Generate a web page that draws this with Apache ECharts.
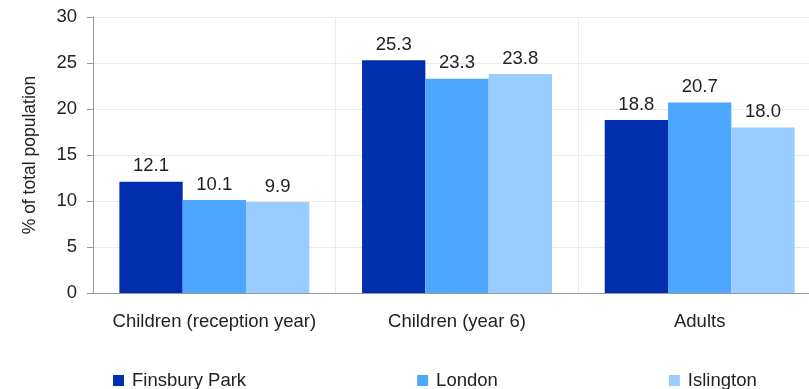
<!DOCTYPE html>
<html>
<head>
<meta charset="utf-8">
<script src="https://cdn.jsdelivr.net/npm/echarts@6/dist/echarts.min.js"></script>
<style>html,body{margin:0;padding:0;background:#fff}#c{width:809px;height:389px}</style>
</head>
<body>
<div id="c"></div>
<script>
const categories = ['Children (reception year)', 'Children (year 6)', 'Adults'];
const seriesNames = ['Finsbury Park', 'London', 'Islington'];
const finsburyPark = [12.1, 25.3, 18.8];
const london = [10.1, 23.3, 20.7];
const islington = [9.9, 23.8, 18.0];
const colors = ['#002EAE', '#4DA6FF', '#99CCFF'];
const yTicks = { min: 0, max: 30, interval: 5 };

const font = 'Liberation Sans, Arial, sans-serif';
const fs = 18.5;
const chart = echarts.init(document.getElementById('c'), null, { renderer: 'canvas' });
const data = [finsburyPark, london, islington];
chart.setOption({
  animation: false,
  textStyle: { fontFamily: font },
  grid: { left: 93, width: 728, top: 17, height: 276, containLabel: false, outerBoundsMode: 'none' },
  legend: {
    left: 108, top: 366,
    itemWidth: 11, itemHeight: 11, itemGap: 171,
    icon: 'rect',
    textStyle: { fontSize: fs, color: '#222', fontFamily: font, padding: [0, 0, 0, 3] },
    data: seriesNames
  },
  xAxis: {
    type: 'category',
    data: categories,
    axisLine: { lineStyle: { color: '#999', width: 1 } },
    axisTick: { show: false },
    axisLabel: { interval: 0, hideOverlap: false, fontSize: fs, color: '#222', margin: 19, fontFamily: font },
    splitLine: { show: true, interval: 0, lineStyle: { color: '#eaeaea', width: 1 } }
  },
  yAxis: {
    type: 'value',
    min: yTicks.min, max: yTicks.max, interval: yTicks.interval,
    name: '% of total population',
    nameLocation: 'middle',
    nameGap: 54,
    nameRotate: 90,
    nameTextStyle: { fontSize: 17.5, color: '#222', fontFamily: font },
    axisLine: { show: true, lineStyle: { color: '#999', width: 1 } },
    axisTick: { show: true, length: 6, lineStyle: { color: '#999' } },
    axisLabel: { fontSize: fs, color: '#222', margin: 16, fontFamily: font },
    splitLine: { show: true, lineStyle: { color: '#eaeaea', width: 1 } }
  },
  series: seriesNames.map((n, i) => ({
    name: n,
    type: 'bar',
    data: data[i],
    barWidth: 63.3,
    barGap: '0%',
    itemStyle: { color: colors[i] },
    label: {
      show: true, position: 'top', distance: 6,
      fontSize: fs, color: '#222', fontFamily: font,
      formatter: p => p.value.toFixed(1)
    }
  }))
});
</script>
</body>
</html>
